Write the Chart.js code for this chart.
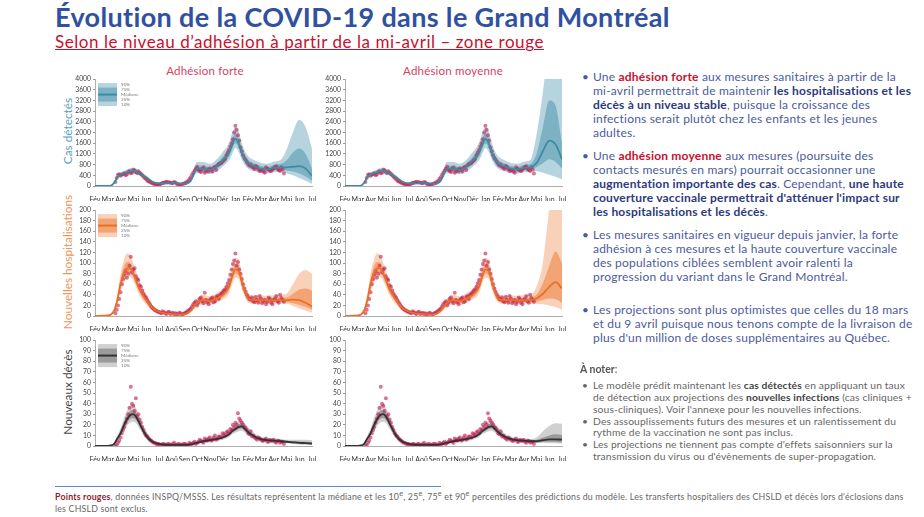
<!DOCTYPE html>
<html lang="fr">
<head>
<meta charset="utf-8">
<title>Évolution de la COVID-19 dans le Grand Montréal</title>
<script src="https://cdn.jsdelivr.net/npm/chart.js@4.4.1/dist/chart.umd.min.js"></script>
<style>
  body { margin:0; width:924px; height:517px; overflow:hidden; background:#fff; position:relative;
         font-family: Lato, "Noto Sans", sans-serif; }
  .abs { position:absolute; white-space:nowrap; }
  h1 { position:absolute; left:55px; top:0px; margin:0; font-size:27px; letter-spacing:0.35px; font-weight:700; color:#2f51a0; white-space:nowrap; }
  .sub { left:55px; top:31px; font-size:17px; letter-spacing:0.55px; color:#c8102e; text-decoration:underline; text-decoration-thickness:1px; }
  .ptitle { top:64px; font-size:11.5px; color:#d8415f; transform:translateX(-50%); letter-spacing:0.2px; }
  .ytitle { font-size:11.8px; transform:translate(-50%,-50%) rotate(-90deg); }
  canvas { position:absolute; }
  .item { position:absolute; left:593px; font-size:12px; letter-spacing:0.2px; line-height:14.1px; color:#4b5b9b; white-space:nowrap; }
  .item::before { content:"•"; position:absolute; left:-11px; color:#4b5b9b; }
  .item b { color:#2d3a7c; }
  .item b.r { color:#c8102e; }
  .note { position:absolute; left:593px; font-size:10.3px; letter-spacing:0.12px; line-height:11.8px; color:#666; white-space:nowrap; }
  .note::before { content:"•"; position:absolute; left:-11px; }
  .note b { color:#444; }
  .foot { left:55px; top:488px; font-size:8.8px; letter-spacing:0.2px; line-height:12px; color:#666; }
  .foot b { color:#8e1b33; }
</style>
</head>
<body>
<h1>Évolution de la COVID-19 dans le Grand Montréal</h1>
<div class="abs sub">Selon le niveau d’adhésion à partir de la mi-avril – zone rouge</div>

<div class="abs ptitle" style="left:205px">Adhésion forte</div>
<div class="abs ptitle" style="left:453px">Adhésion moyenne</div>

<div class="abs ytitle" style="left:67px;top:131px;color:#5aa3b7">Cas détectés</div>
<div class="abs ytitle" style="left:67px;top:262px;color:#f0955a">Nouvelles hospitalisations</div>
<div class="abs ytitle" style="left:67px;top:392px;color:#444">Nouveaux décès</div>

<canvas id="casForte" width="254" height="130" style="left:65px;top:73px"></canvas>
<canvas id="casMoy" width="254" height="130" style="left:315px;top:73px"></canvas>
<canvas id="hospForte" width="254" height="129" style="left:65px;top:204px"></canvas>
<canvas id="hospMoy" width="254" height="129" style="left:315px;top:204px"></canvas>
<canvas id="decesForte" width="254" height="129" style="left:65px;top:334px"></canvas>
<canvas id="decesMoy" width="254" height="129" style="left:315px;top:334px"></canvas>

<div class="item" style="top:70px">Une <b class="r">adhésion forte</b> aux mesures sanitaires à partir de la<br>mi-avril permettrait de maintenir <b>les hospitalisations et les</b><br><b>décès à un niveau stable</b>, puisque la croissance des<br>infections serait plutôt chez les enfants et les jeunes<br>adultes.</div>
<div class="item" style="top:149px">Une <b class="r">adhésion moyenne</b> aux mesures (poursuite des<br>contacts mesurés en mars) pourrait occasionner une<br><b>augmentation importante des cas</b>. Cependant, <b>une haute</b><br><b>couverture vaccinale permettrait d'atténuer l'impact sur</b><br><b>les hospitalisations et les décès</b>.</div>
<div class="item" style="top:228px">Les mesures sanitaires en vigueur depuis janvier, la forte<br>adhésion à ces mesures et la haute couverture vaccinale<br>des populations ciblées semblent avoir ralenti la<br>progression du variant dans le Grand Montréal.</div>
<div class="item" style="top:303px">Les projections sont plus optimistes que celles du 18 mars<br>et du 9 avril puisque nous tenons compte de la livraison de<br>plus d'un million de doses supplémentaires au Québec.</div>

<div class="abs" style="left:580px;top:363px;font-size:10.5px;color:#555"><b>À noter</b>:</div>
<div class="note" style="top:380px">Le modèle prédit maintenant les <b>cas détectés</b> en appliquant un taux<br>de détection aux projections des <b>nouvelles infections</b> (cas cliniques +<br>sous-cliniques). Voir l'annexe pour les nouvelles infections.</div>
<div class="note" style="top:415.5px">Des assouplissements futurs des mesures et un ralentissement du<br>rythme de la vaccination ne sont pas inclus.</div>
<div class="note" style="top:439px">Les projections ne tiennent pas compte d'effets saisonniers sur la<br>transmission du virus ou d'évènements de super-propagation.</div>

<div class="abs" style="left:55px;top:486px;width:386px;border-top:1px solid #5b86c0"></div>
<div class="abs foot"><b>Points rouges</b>, données INSPQ/MSSS. Les résultats représentent la médiane et les 10<sup>e</sup>, 25<sup>e</sup>, 75<sup>e</sup> et 90<sup>e</sup> percentiles des prédictions du modèle. Les transferts hospitaliers des CHSLD et décès lors d'éclosions dans<br>les CHSLD sont exclus.</div>

<script>
// months since 1 Feb 2020
const monthLabels = ['Fév','Mar','Avr','Mai','Jun','Jul','Aoû','Sep','Oct','Nov','Déc','Jan','Fév','Mar','Avr','Mai','Jun','Jul'];
const legendLabels = ['90%', '75%', 'Médiane', '25%', '10%'];

// model grid: history up to mid-April 2021, then projection
const histX = [0,1,1.25,1.5,1.75,2,2.25,2.5,2.75,3,3.25,3.5,4,4.5,5,5.5,6,6.5,7,7.5,8,8.5,9,9.5,10,10.5,10.75,11,11.25,11.5,11.75,12,12.5,13,13.5,14,14.5];
const projX = [15, 15.5, 16, 16.5, 17];

// cas détectés
const casesP10 = [0,0,6,90,270,345,385,420,455,470,445,385,270,125,75,75,90,75,50,150,480,480,450,540,720,960,1200,1420,1280,980,770,650,550,490,465,510,525];
const casesP25 = [0,0,8,105,300,380,425,465,500,520,490,425,300,142,88,88,105,88,60,175,560,560,520,625,830,1100,1370,1590,1440,1110,880,745,635,565,540,590,610];
const casesMed = [0,0,10,120,330,420,470,510,550,570,540,470,330,160,100,100,120,100,70,200,650,650,600,720,950,1250,1550,1760,1600,1250,1000,850,730,650,620,680,700];
const casesP75 = [0,0,12,135,360,460,515,560,600,625,590,515,360,180,112,112,135,112,80,230,760,760,700,830,1090,1420,1760,1960,1800,1420,1140,970,840,750,720,790,820];
const casesP90 = [0,0,15,155,400,505,565,615,660,690,650,565,400,200,128,128,155,128,95,280,900,900,830,980,1260,1620,1980,2220,2040,1620,1300,1110,960,860,830,910,960];
const casesForteP10 = [480, 400, 300, 200, 80];
const casesForteP25 = [580, 540, 470, 360, 200];
const casesForteMed = [700, 720, 740, 650, 380];
const casesForteP75 = [950, 1250, 1400, 1200, 650];
const casesForteP90 = [1350, 2000, 2480, 2200, 1400];
const casesMoyP10 = [550, 500, 420, 350, 250];
const casesMoyP25 = [700, 850, 1000, 900, 650];
const casesMoyMed = [850, 1300, 1700, 1550, 1000];
const casesMoyP75 = [1200, 2200, 3200, 3000, 1600];
const casesMoyP90 = [1900, 3500, 5500, 6000, 5000];

// nouvelles hospitalisations
const hospP10 = [0,0,1,6,20,45,62,72,74,66,52,38,22,10,5,3,2,1.5,1.5,6,18,22,21,25,31,43,60,72,70,52,35,25,23,23,22,23,23];
const hospP25 = [0,0.5,2,8,25,52,70,81,82,73,58,44,26,12,6,4,3,2,2,8,21,26,24,29,35,49,67,80,77,58,40,29,26,26,25,26,26];
const hospMed = [0,1,3,10,30,60,80,90,90,80,65,50,30,15,8,5,4,3,3,10,25,30,28,33,40,55,75,88,85,65,45,33,30,30,29,30,30];
const hospP75 = [0,1.5,4,13,36,70,92,102,101,90,73,57,35,18,10,6,5,4,4,12,29,35,32,38,46,62,84,98,95,73,51,38,34,34,33,34,35];
const hospP90 = [0,2,5,16,42,80,105,118,115,100,82,64,40,21,12,8,6,5,5,15,34,40,37,43,52,70,94,110,106,82,58,43,39,39,38,39,40];
const hospForteP10 = [23, 19, 14, 10, 6];
const hospForteP25 = [26, 24, 21, 17, 12];
const hospForteMed = [30, 31, 30, 25, 18];
const hospForteP75 = [35, 42, 50, 52, 48];
const hospForteP90 = [42, 60, 80, 87, 80];
const hospMoyP10 = [23, 22, 20, 17, 12];
const hospMoyP25 = [27, 30, 33, 32, 24];
const hospMoyMed = [33, 42, 55, 64, 52];
const hospMoyP75 = [40, 62, 95, 122, 100];
const hospMoyP90 = [55, 100, 200, 260, 240];

// nouveaux décès
const deathsP10 = [0,0,0.2,1,5,9,14,19,22,23,21,16,7,2.5,1,0.5,0.5,0.5,0.5,0.8,2,3,4,4.8,6,8.5,11,12.5,14,14.5,12.5,10,7,5,4,3.5,3];
const deathsP25 = [0,0,0.3,1.5,6,10.5,16.5,22,25.5,26.5,24,18.5,8.5,3.2,1.5,0.8,0.7,0.7,0.7,1.1,2.5,3.7,4.7,5.6,7,9.8,12.5,14.2,16,16.5,14.2,11.5,8,5.7,4.7,4.2,3.7];
const deathsMed = [0,0,0.5,2,7,12,19,25,29,30,27,21,10,4,2,1.2,1,1,1,1.5,3,4.5,5.5,6.5,8,11,14,16,18,18.5,16,13,9,6.5,5.5,5,4.5];
const deathsP75 = [0,0,0.8,2.6,8.5,14,22,28.5,33,34,31,24,12,5,2.6,1.6,1.4,1.4,1.4,2,3.6,5.4,6.5,7.6,9.3,12.5,16,18,20.5,21,18.2,15,10.5,7.5,6.4,6,5.5];
const deathsP90 = [0,0,1.2,3.3,10,16.5,25.5,33,38,39,35,27,14,6.2,3.2,2,1.8,1.8,1.8,2.6,4.3,6.4,7.6,8.8,10.8,14.5,18.5,21,23.5,24,21,17.5,12,8.8,7.5,7,6.6];
const deathsForteP10 = [2.5, 2, 1.5, 1.2, 0.9];
const deathsForteP25 = [3.2, 2.7, 2.2, 1.8, 1.4];
const deathsForteMed = [4, 3.5, 3, 2.7, 2.3];
const deathsForteP75 = [5, 4.6, 4.2, 3.9, 3.5];
const deathsForteP90 = [6, 6, 6, 5.8, 5.5];
const deathsMoyP10 = [2.8, 2.8, 2.7, 2.5, 2.2];
const deathsMoyP25 = [3.5, 3.8, 4, 3.8, 3.5];
const deathsMoyMed = [4.5, 5.5, 6.2, 6.3, 6];
const deathsMoyP75 = [6, 8, 10, 11, 10.5];
const deathsMoyP90 = [8, 14, 19, 21.5, 21];

// points rouges (observed), two interleaved samplings every ~6 days from mid-March 2020
const obsStartA = 1.6, obsStartB = 1.7, obsStep = 0.2;
const casesObsA = [150,420,380,450,400,520,480,610,520,550,450,350,260,180,120,80,70,60,90,120,160,140,110,150,80,60,70,90,150,260,420,580,720,560,640,500,620,660,540,720,780,840,920,1020,1250,1480,1750,2250,1900,1450,1150,980,820,800,680,750,620,580,540,700,610,560,660,740,600,700,470];
const casesObsB = [300,440,420,480,430,560,500,580,480,500,400,300,200,150,100,60,50,70,110,140,130,120,100,130,70,50,80,120,200,330,500,650,600,520,700,560,540,620,680,600,820,860,960,1150,1350,1600,2000,2100,1700,1300,1050,900,760,720,640,700,560,620,500,650,580,620,700,640,560,620];
const hospObsA = [5,20,45,70,85,80,112,88,75,68,55,42,35,26,18,13,10,8,5,7,4,8,5,3,4,6,3,5,8,12,18,25,20,32,28,44,26,30,35,28,38,40,45,50,62,78,98,118,102,80,60,46,36,31,28,36,25,33,28,22,35,25,30,38,25,34,27];
const hospObsB = [12,32,60,78,72,95,82,90,70,58,48,38,30,22,15,11,8,6,9,5,7,4,6,5,3,5,4,6,10,14,22,28,25,35,24,30,22,33,26,36,32,42,48,55,68,88,105,95,88,70,52,40,32,35,26,30,38,24,30,27,32,22,33,28,40,30];
const deathsObsA = [0,3,8,15,22,30,56,38,45,30,22,15,10,7,5,3,2,2,1,2,1,2,1,3,1,2,1,2,1,3,2,4,3,6,4,7,5,8,6,10,7,9,12,10,14,16,20,22,31,24,20,17,12,14,10,7,8,6,5,7,4,5,6,3,5,4,2];
const deathsObsB = [1,5,12,18,26,36,40,33,28,25,18,12,9,6,4,3,2,1,2,1,2,1,2,1,2,1,2,2,1,2,3,2,4,5,3,6,7,5,8,6,9,8,11,13,12,15,18,20,26,22,18,15,11,9,8,6,7,5,6,4,6,5,4,5,3,4];

// little legend box drawn in the left panels
const bandLegend = {
  id: 'bandLegend',
  afterDatasetsDraw(chart, args, o) {
    if (!o.show) return;
    const ctx = chart.ctx, a = chart.chartArea;
    const x = a.left + 3, y = a.top + 4;
    ctx.save();
    ctx.fillStyle = o.outer; ctx.fillRect(x, y, 19, 23);
    ctx.fillStyle = o.inner; ctx.fillRect(x, y + 4.5, 19, 14);
    ctx.fillStyle = o.line; ctx.fillRect(x, y + 10.5, 19, 2);
    ctx.fillStyle = '#777';
    ctx.font = '4.6px Lato';
    ctx.textBaseline = 'middle';
    legendLabels.forEach((t, i) => ctx.fillText(t, x + 23, y + 1 + i * 5.15));
    ctx.restore();
  }
};

const metrics = {
  cases: { max: 4000, step: 400, outer: 'rgba(79,153,177,0.42)', inner: 'rgba(60,140,165,0.46)', line: '#3a8ca3',
           hist: [casesP10, casesP25, casesMed, casesP75, casesP90], obsA: casesObsA, obsB: casesObsB },
  hosp: { max: 200, step: 20, outer: 'rgba(240,140,80,0.4)', inner: 'rgba(235,120,50,0.5)', line: '#e97127',
          hist: [hospP10, hospP25, hospMed, hospP75, hospP90], obsA: hospObsA, obsB: hospObsB },
  deaths: { max: 100, step: 10, outer: 'rgba(120,120,120,0.35)', inner: 'rgba(80,80,80,0.41)', line: '#333',
            hist: [deathsP10, deathsP25, deathsMed, deathsP75, deathsP90], obsA: deathsObsA, obsB: deathsObsB }
};

function makePanel(id, m, proj, showLegend) {
  const xs = histX.concat(projX);
  const series = k => m.hist[k].concat(proj[k]).map((y, i) => ({ x: xs[i], y }));
  const obs = m.obsA.map((y, i) => ({ x: obsStartA + i * obsStep, y }))
    .concat(m.obsB.map((y, i) => ({ x: obsStartB + i * obsStep, y })));
  const band = { borderWidth: 0, pointRadius: 0, tension: 0.4, cubicInterpolationMode: 'monotone' };
  new Chart(document.getElementById(id), {
    type: 'line',
    data: {
      datasets: [
        { ...band, data: series(0), fill: false, order: 6 },
        { ...band, data: series(4), fill: '-1', backgroundColor: m.outer, order: 5 },
        { ...band, data: series(1), fill: false, order: 4 },
        { ...band, data: series(3), fill: '-1', backgroundColor: m.inner, order: 3 },
        { data: obs, showLine: false, pointRadius: 2, pointBorderWidth: 0,
          pointBackgroundColor: 'rgba(196,32,82,0.62)', order: 2 },
        { data: series(2), borderColor: m.line, borderWidth: 1.8, pointRadius: 0, fill: false,
          cubicInterpolationMode: 'monotone', order: 1 }
      ]
    },
    options: {
      responsive: false,
      animation: false,
      layout: { padding: { top: 4.7, right: 7, left: 0, bottom: 2 } },
      plugins: {
        legend: { display: false },
        tooltip: { enabled: false },
        bandLegend: { show: showLegend, outer: m.outer, inner: m.inner, line: m.line }
      },
      scales: {
        x: {
          type: 'linear', min: 0, max: 17,
          border: { color: '#999', width: 0.8 },
          grid: { display: false },
          ticks: { stepSize: 1, autoSkip: false, maxRotation: 0, padding: 2, color: '#333',
                   font: { family: 'Lato', size: 7 }, callback: v => monthLabels[v] ?? '' },
          afterFit: s => { s.height = 15; }
        },
        y: {
          min: 0, max: m.max,
          border: { color: '#999', width: 0.8 },
          grid: { drawOnChartArea: false, tickLength: 2, color: '#999' },
          ticks: { stepSize: m.step, autoSkip: false, padding: 2, color: '#444',
                   font: { family: 'Lato', size: 6.8 }, callback: v => String(v) },
          afterFit: s => { s.width = 30; }
        }
      }
    },
    plugins: [bandLegend]
  });
}

makePanel('casForte', metrics.cases, [casesForteP10, casesForteP25, casesForteMed, casesForteP75, casesForteP90], true);
makePanel('casMoy', metrics.cases, [casesMoyP10, casesMoyP25, casesMoyMed, casesMoyP75, casesMoyP90], false);
makePanel('hospForte', metrics.hosp, [hospForteP10, hospForteP25, hospForteMed, hospForteP75, hospForteP90], true);
makePanel('hospMoy', metrics.hosp, [hospMoyP10, hospMoyP25, hospMoyMed, hospMoyP75, hospMoyP90], false);
makePanel('decesForte', metrics.deaths, [deathsForteP10, deathsForteP25, deathsForteMed, deathsForteP75, deathsForteP90], true);
makePanel('decesMoy', metrics.deaths, [deathsMoyP10, deathsMoyP25, deathsMoyMed, deathsMoyP75, deathsMoyP90], false);
</script>
</body>
</html>
